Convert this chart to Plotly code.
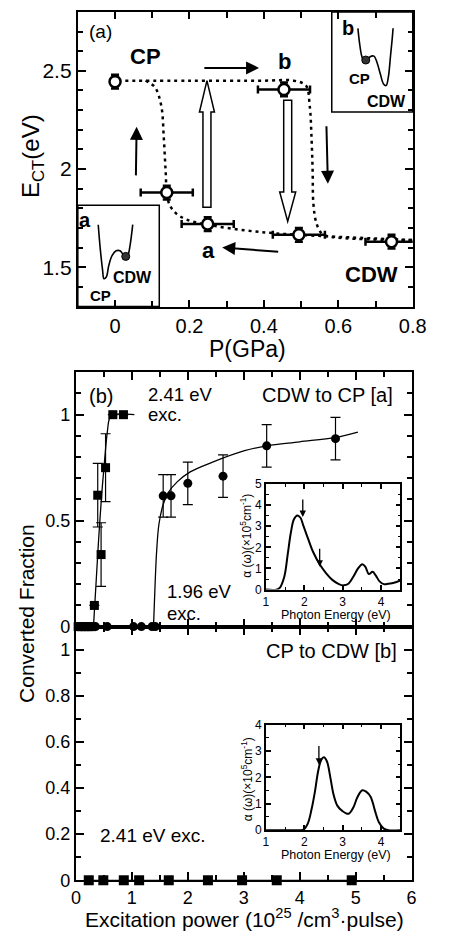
import plotly.graph_objects as go

# ---------------- data: panel (a) ----------------
pa_P = [0.0, 0.139, 0.249, 0.454, 0.494, 0.743]
pa_E = [2.445, 1.88, 1.72, 2.405, 1.665, 1.63]
pa_Perr = [0.0, 0.07, 0.07, 0.07, 0.07, 0.07]
pa_Eerr = [0.035, 0.035, 0.035, 0.035, 0.035, 0.035]

up_P = [0.008, 0.2, 0.4, 0.48, 0.513, 0.523, 0.528, 0.531, 0.533, 0.541, 0.554, 0.571, 0.8]
up_E = [2.45, 2.45, 2.45, 2.45, 2.425, 2.325, 2.16, 1.99, 1.825, 1.725, 1.675, 1.658, 1.638]
low_P = [0.082, 0.107, 0.124, 0.131, 0.136, 0.142, 0.159, 0.193, 0.262, 0.348, 0.434, 0.563, 0.8]
low_E = [2.45, 2.417, 2.325, 2.16, 1.99, 1.842, 1.783, 1.742, 1.712, 1.688, 1.672, 1.658, 1.638]

# ---------------- data: panel (b) upper ----------------
sq_x = [0.04, 0.1, 0.16, 0.22, 0.28, 0.33, 0.39, 0.45, 0.53, 0.66, 0.85]
sq_y = [0, 0, 0, 0, 0, 0.10, 0.62, 0.34, 0.75, 1.0, 1.0]
sq_err = [0, 0, 0, 0, 0, 0, 0.15, 0.15, 0.16, 0, 0]
sqfit_x = [0.314, 0.36, 0.405, 0.456, 0.514, 0.56, 0.605, 0.67, 1.045]
sqfit_y = [0.0, 0.205, 0.406, 0.606, 0.79, 0.915, 0.985, 1.0, 1.0]

ci_x = [0.35, 0.56, 1.03, 1.17, 1.36, 1.42, 1.56, 1.70, 2.0, 2.63, 3.41, 4.64]
ci_y = [0, 0, 0, 0, 0, 0, 0.617, 0.617, 0.676, 0.71, 0.853, 0.887]
ci_err = [0, 0, 0, 0, 0, 0, 0.1, 0.1, 0.1, 0.1, 0.1, 0.1]
cifit_x = [1.387, 1.416, 1.444, 1.484, 1.558, 1.644, 1.815, 2.043, 2.443, 3.014, 3.413, 4.0, 4.64, 5.04]
cifit_y = [0.0, 0.205, 0.36, 0.483, 0.575, 0.63, 0.684, 0.73, 0.776, 0.83, 0.853, 0.872, 0.893, 0.918]

# ---------------- data: panel (b) lower ----------------
lo_x = [0.23, 0.49, 0.856, 1.13, 1.66, 2.36, 2.97, 3.59, 4.93]
lo_y = [0, 0, 0, 0, 0, 0, 0, 0, 0]

# ---------------- inset spectra ----------------
cdw_E = [1.0, 1.275, 1.36, 1.48, 1.57, 1.65, 1.73, 1.82, 1.9, 1.98, 2.1, 2.23, 2.4, 2.57, 2.73,
         2.9, 3.02, 3.15, 3.28, 3.4, 3.51, 3.59, 3.68, 3.78, 3.86, 3.96, 4.07, 4.19, 4.36, 4.5]
cdw_a = [0.0, 0.0, 0.08, 0.62, 1.7, 2.7, 3.33, 3.51, 3.4, 3.0, 2.4, 1.78, 1.2, 0.77, 0.46,
         0.26, 0.2, 0.28, 0.62, 1.0, 1.2, 1.08, 0.74, 0.84, 0.67, 0.39, 0.26, 0.28, 0.34, 0.43]
cp_E = [1.0, 1.86, 1.98, 2.09, 2.19, 2.28, 2.36, 2.44, 2.51, 2.59, 2.68, 2.76, 2.86, 2.98, 3.15,
        3.28, 3.38, 3.51, 3.61, 3.73, 3.84, 3.94, 4.07, 4.19, 4.5]
cp_a = [0.0, 0.0, 0.02, 0.25, 0.8, 1.49, 2.23, 2.66, 2.76, 2.6, 1.98, 1.36, 0.93, 0.74, 0.62,
        0.87, 1.24, 1.51, 1.46, 1.26, 0.74, 0.31, 0.06, 0.0, 0.0]

# ---------------- schematic double-well sketches (figure pixels) ----------------
well_a_x = [97.3, 99.3, 101.7, 103.3, 105.7, 108.3, 111.7, 116, 120, 123.3, 126, 128.3, 130.7, 133.3]
well_a_y = [221.7, 245, 266.7, 276.7, 275, 263.3, 253.3, 248.3, 248.3, 252.3, 256.7, 253.3, 241.7, 221.7]
well_b_x = [368.3, 370, 372.3, 375, 377.7, 381, 385, 388.3, 391.7, 395, 397.7, 400, 402.3, 404, 405]
well_b_y = [21.7, 36.7, 50, 56, 55, 50.7, 50, 56.7, 68.3, 78.3, 80, 71.7, 50, 33.3, 21.7]

W, H = 455, 943
FONT = "Liberation Sans, Arial, Helvetica, sans-serif"


def dx(px):
    return px / W


def dy(py):
    return 1 - py / H


fig = go.Figure()

# ---- panel (a) ----
fig.add_trace(go.Scatter(x=up_P, y=up_E, mode="lines", line=dict(color="black", width=2.5, dash="3px,4px", shape="spline"),
                         xaxis="x", yaxis="y", showlegend=False))
fig.add_trace(go.Scatter(x=low_P, y=low_E, mode="lines", line=dict(color="black", width=2.5, dash="3px,4px", shape="spline"),
                         xaxis="x", yaxis="y", showlegend=False))
fig.add_trace(go.Scatter(x=pa_P, y=pa_E, mode="markers",
                         marker=dict(symbol="circle", size=11, color="white", line=dict(color="black", width=2.5)),
                         error_x=dict(type="data", array=pa_Perr, color="black", thickness=2.5, width=4),
                         error_y=dict(type="data", array=pa_Eerr, color="black", thickness=2.5, width=4),
                         xaxis="x", yaxis="y", showlegend=False))

# ---- panel (b) upper ----
fig.add_trace(go.Scatter(x=sqfit_x, y=sqfit_y, mode="lines", line=dict(color="black", width=1.3, shape="spline"),
                         xaxis="x2", yaxis="y2", showlegend=False))
fig.add_trace(go.Scatter(x=cifit_x, y=cifit_y, mode="lines", line=dict(color="black", width=1.3, shape="spline"),
                         xaxis="x2", yaxis="y2", showlegend=False))
fig.add_trace(go.Scatter(x=sq_x, y=sq_y, mode="markers",
                         marker=dict(symbol="square", size=9, color="black"),
                         error_y=dict(type="data", array=sq_err, color="black", thickness=1.2, width=5),
                         xaxis="x2", yaxis="y2", cliponaxis=False, showlegend=False))
fig.add_trace(go.Scatter(x=ci_x, y=ci_y, mode="markers",
                         marker=dict(symbol="circle", size=9, color="black"),
                         error_y=dict(type="data", array=ci_err, color="black", thickness=1.2, width=5),
                         xaxis="x2", yaxis="y2", cliponaxis=False, showlegend=False))

# ---- panel (b) lower ----
fig.add_trace(go.Scatter(x=lo_x, y=lo_y, mode="lines+markers", line=dict(color="black", width=1.2),
                         marker=dict(symbol="square", size=10, color="black"),
                         xaxis="x3", yaxis="y3", cliponaxis=False, showlegend=False))

# ---- insets ----
fig.add_trace(go.Scatter(x=cdw_E, y=cdw_a, mode="lines", line=dict(color="black", width=2, shape="spline"),
                         xaxis="x4", yaxis="y4", showlegend=False))
fig.add_trace(go.Scatter(x=cp_E, y=cp_a, mode="lines", line=dict(color="black", width=2, shape="spline"),
                         xaxis="x5", yaxis="y5", showlegend=False))

# ---- schematic sketches on pixel overlay ----
fig.add_trace(go.Scatter(x=well_a_x, y=well_a_y, mode="lines", line=dict(color="black", width=1.6, shape="spline"),
                         xaxis="x6", yaxis="y6", showlegend=False))
fig.add_trace(go.Scatter(x=well_b_x, y=well_b_y, mode="lines", line=dict(color="black", width=1.6, shape="spline"),
                         xaxis="x6", yaxis="y6", showlegend=False))
fig.add_trace(go.Scatter(x=[126, 376.5], y=[254, 54], mode="markers",
                         marker=dict(size=8, color="#333333", line=dict(color="black", width=1)),
                         xaxis="x6", yaxis="y6", showlegend=False))

axis_common = dict(showgrid=False, zeroline=False, linecolor="black", linewidth=2, mirror="ticks",
                   ticks="inside", tickcolor="black", tickwidth=1.5, showline=True,
                   tickfont=dict(family=FONT, size=18, color="black"))


def ax(**kw):
    d = dict(axis_common)
    d.update(kw)
    return d


INSET_TF = dict(family=FONT, size=12, color="black")

layout = dict(
    width=W, height=H, margin=dict(l=0, r=0, t=0, b=0), autosize=False,
    paper_bgcolor="white", plot_bgcolor="rgba(0,0,0,0)",
    font=dict(family=FONT, color="black"),
    xaxis=ax(domain=[dx(76), dx(425.5)], range=[-0.1, 0.8], tick0=0, dtick=0.2, ticklen=7,
             minor=dict(dtick=0.1, ticklen=6, ticks="inside", tickcolor="black", tickwidth=1.5),
             tickfont=dict(family=FONT, size=20, color="black"), anchor="y"),
    yaxis=ax(domain=[dy(305), dy(5)], range=[1.3, 2.8], tick0=1.5, dtick=0.5, ticklen=8,
             minor=dict(dtick=0.1, ticklen=5, ticks="inside", tickcolor="black", tickwidth=1.5),
             tickfont=dict(family=FONT, size=21, color="black"), anchor="x"),
    xaxis2=ax(domain=[dx(74), dx(424.3)], range=[0, 6], tick0=0, dtick=1, ticklen=8, showticklabels=False,
              minor=dict(dtick=0.5, ticklen=5, ticks="inside", tickcolor="black", tickwidth=1.5), anchor="y2"),
    yaxis2=ax(domain=[dy(631), dy(372)], range=[0, 1.2], tick0=0, dtick=0.5, ticklen=8,
              minor=dict(dtick=0.1, ticklen=5, ticks="inside", tickcolor="black", tickwidth=1.5), anchor="x2"),
    xaxis3=ax(domain=[dx(74), dx(424.3)], range=[0, 6], tick0=0, dtick=1, ticklen=8,
              minor=dict(dtick=0.5, ticklen=5, ticks="inside", tickcolor="black", tickwidth=1.5), anchor="y3"),
    yaxis3=ax(domain=[dy(889.3), dy(631)], range=[0, 1.1], tick0=0, dtick=0.2, ticklen=8,
              minor=dict(dtick=0.1, ticklen=5, ticks="inside", tickcolor="black", tickwidth=1.5), anchor="x3"),
    xaxis4=ax(domain=[dx(272.3), dx(412.5)], range=[1, 4.5], tick0=1, dtick=1, ticklen=5, linewidth=1.5,
              tickfont=INSET_TF,
              minor=dict(dtick=0.5, ticklen=3, ticks="inside", tickcolor="black", tickwidth=1.2), anchor="y4"),
    yaxis4=ax(domain=[dy(593.3), dy(485.7)], range=[0, 5], tick0=0, dtick=1, ticklen=5, linewidth=1.5,
              tickfont=INSET_TF,
              minor=dict(dtick=0.5, ticklen=3, ticks="inside", tickcolor="black", tickwidth=1.2), anchor="x4"),
    xaxis5=ax(domain=[dx(272.3), dx(412.5)], range=[1, 4.5], tick0=1, dtick=1, ticklen=5, linewidth=1.5,
              tickfont=INSET_TF,
              minor=dict(dtick=0.5, ticklen=3, ticks="inside", tickcolor="black", tickwidth=1.2), anchor="y5"),
    yaxis5=ax(domain=[dy(838.3), dy(730.7)], range=[0, 4], tick0=0, dtick=1, ticklen=5, linewidth=1.5,
              tickfont=INSET_TF,
              minor=dict(dtick=0.5, ticklen=3, ticks="inside", tickcolor="black", tickwidth=1.2), anchor="x5"),
    xaxis6=dict(domain=[0, 1], range=[0, W], visible=False, fixedrange=True, anchor="y6"),
    yaxis6=dict(domain=[0, 1], range=[H, 0], visible=False, fixedrange=True, anchor="x6"),
)
fig.update_layout(**layout)

ann = []


def txt(x, y, s, size, xref, yref, bold=False, xanchor="center", angle=0):
    ann.append(dict(x=x, y=y, xref=xref, yref=yref, text=("<b>%s</b>" % s) if bold else s, showarrow=False,
                    xanchor=xanchor, yanchor="middle", textangle=angle,
                    font=dict(family=FONT, size=size, color="black")))


# panel (a) labels
txt(-0.039, 2.70, "(a)", 19, "x", "y")
txt(0.082, 2.575, "CP", 22, "x", "y", bold=True)
txt(0.456, 2.55, "b", 22, "x", "y", bold=True)
txt(0.25, 1.585, "a", 22, "x", "y", bold=True)
txt(0.69, 1.465, "CDW", 22, "x", "y", bold=True)
# schematic labels (pixels)
txt(84, 217, "a", 20, "x6", "y6", bold=True)
txt(133.3, 275, "CDW", 16, "x6", "y6", bold=True)
txt(99.3, 293.3, "CP", 15, "x6", "y6", bold=True)
txt(358.3, 21.7, "b", 20, "x6", "y6", bold=True)
txt(370, 72.7, "CP", 15, "x6", "y6", bold=True)
txt(398.3, 96.7, "CDW", 16, "x6", "y6", bold=True)
# axis titles (pixels)
txt(28, 152, "E<sub>CT</sub>(eV)", 24, "x6", "y6", angle=-90)
txt(253, 348, "P(GPa)", 23, "x6", "y6")
txt(23, 618, "Converted Fraction", 21, "x6", "y6", angle=-90)
txt(250, 928, "Excitation power (10<sup>25</sup> /cm<sup>3</sup>·pulse)", 21, "x6", "y6")
# panel (b) labels
txt(0.445, 1.088, "(b)", 20, "x2", "y2")
txt(1.25, 1.097, "2.41 eV", 18.5, "x2", "y2", xanchor="left")
txt(1.25, 1.0, "exc.", 18.5, "x2", "y2", xanchor="left")
txt(5.70, 1.093, "CDW to CP [a]", 20, "x2", "y2", xanchor="right")
txt(1.59, 0.165, "1.96 eV", 18.5, "x2", "y2", xanchor="left")
txt(1.59, 0.063, "exc.", 18.5, "x2", "y2", xanchor="left")
txt(5.77, 0.993, "CP to CDW [b]", 20, "x3", "y3", xanchor="right")
txt(0.394, 0.193, "2.41 eV exc.", 19, "x3", "y3", xanchor="left")
# inset titles
txt(345, 619.5, "Photon Energy (eV)", 12.5, "x6", "y6")
txt(345, 864, "Photon Energy (eV)", 12.5, "x6", "y6")
txt(252, 538, "α (ω)(×10<sup>5</sup>cm<sup>-1</sup>)", 12, "x6", "y6", angle=-90)
txt(252, 786, "α (ω)(×10<sup>5</sup>cm<sup>-1</sup>)", 12, "x6", "y6", angle=-90)


def arrow(x, y, axv, ayv, xref, yref, width=2, size=1.3):
    ann.append(dict(x=x, y=y, ax=axv, ay=ayv, xref=xref, yref=yref, axref=xref, ayref=yref, text="",
                    showarrow=True, arrowhead=2, arrowsize=size, arrowwidth=width, arrowcolor="black"))


arrow(0.387, 2.515, 0.236, 2.515, "x", "y")
arrow(0.058, 2.215, 0.056, 1.96, "x", "y")
arrow(0.572, 1.925, 0.568, 2.225, "x", "y")
arrow(0.288, 1.60, 0.4425, 1.578, "x", "y")
arrow(1.96, 3.44, 1.96, 4.33, "x4", "y4", width=1.3, size=1.0)
arrow(2.40, 1.08, 2.40, 2.0, "x4", "y4", width=1.3, size=1.0)
arrow(2.38, 2.48, 2.38, 3.24, "x5", "y5", width=1.3, size=1.0)

fig.update_layout(annotations=ann)

shapes = []
# hollow arrows (x in pixel offsets around anchor, y in data)
shapes.append(dict(type="path", xref="x", yref="y", xsizemode="pixel", xanchor=0.247,
                   path="M -4,1.805 L 4,1.805 L 4,2.29 L 7.5,2.29 L 0,2.45 L -7.5,2.29 L -4,2.29 Z",
                   fillcolor="white", line=dict(color="black", width=1.5)))
shapes.append(dict(type="path", xref="x", yref="y", xsizemode="pixel", xanchor=0.464,
                   path="M -4,2.35 L 4,2.35 L 4,1.883 L 8,1.883 L 0,1.733 L -8,1.883 L -4,1.883 Z",
                   fillcolor="white", line=dict(color="black", width=1.5)))
# schematic boxes
shapes.append(dict(type="rect", xref="paper", yref="paper", x0=dx(76), x1=dx(161), y0=dy(305), y1=dy(202),
                   line=dict(color="black", width=1.5), fillcolor="rgba(0,0,0,0)"))
shapes.append(dict(type="rect", xref="paper", yref="paper", x0=dx(341), x1=dx(425.5), y0=dy(107), y1=dy(5),
                   line=dict(color="black", width=1.5), fillcolor="rgba(0,0,0,0)"))
fig.update_layout(shapes=shapes)

fig.write_html("out.html")
